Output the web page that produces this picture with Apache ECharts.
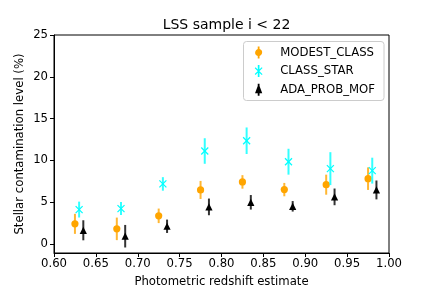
<!DOCTYPE html>
<html>
<head>
<meta charset="utf-8">
<script src="https://cdn.jsdelivr.net/npm/echarts@6/dist/echarts.min.js"></script>
<style>html,body{margin:0;padding:0;background:#fff;}#c{width:432px;height:288px;}</style>
</head>
<body>
<div id="c"></div>
<script>
// ---- data ----
const seriesNames = ['MODEST_CLASS', 'CLASS_STAR', 'ADA_PROB_MOF'];
const modestX = [0.625, 0.675, 0.725, 0.775, 0.825, 0.875, 0.925, 0.975];
const modestY = [2.39, 1.79, 3.35, 6.45, 7.41, 6.49, 7.08, 7.80];
const modestErr = [1.20, 1.35, 0.87, 1.08, 0.81, 0.80, 1.20, 1.35];
const classStarX = [0.630, 0.680, 0.730, 0.780, 0.830, 0.880, 0.930, 0.980];
const classStarY = [4.10, 4.22, 7.17, 11.11, 12.34, 9.83, 9.00, 8.76];
const classStarErr = [0.95, 0.78, 0.81, 1.53, 1.59, 1.55, 1.97, 1.55];
const adaX = [0.635, 0.685, 0.735, 0.785, 0.835, 0.885, 0.935, 0.985];
const adaY = [1.62, 0.91, 2.10, 4.42, 4.97, 4.49, 5.62, 6.45];
const adaErr = [1.20, 1.35, 0.80, 1.00, 0.87, 0.63, 1.00, 1.13];
const yTickValues = [0, 5, 10, 15, 20, 25];

const FONT = 'DejaVu Sans';
const FS = 11.7;

function rows(xs, ys, es) { return xs.map((x, i) => [x, ys[i], es[i]]); }

function markerShape(kind, cx, cy, color) {
  if (kind === 'circle') {
    return { type: 'circle', shape: { cx: cx, cy: cy, r: 3.6 }, style: { fill: color } };
  }
  if (kind === 'x') {
    const h = 3.5;
    return { type: 'group', children: [
      { type: 'line', shape: { x1: cx - h, y1: cy - h, x2: cx + h, y2: cy + h }, style: { stroke: color, lineWidth: 1.2 } },
      { type: 'line', shape: { x1: cx - h, y1: cy + h, x2: cx + h, y2: cy - h }, style: { stroke: color, lineWidth: 1.2 } }
    ]};
  }
  const s = 3.6;
  return { type: 'polygon', shape: { points: [[cx, cy - s], [cx - s, cy + s], [cx + s, cy + s]] }, style: { fill: color } };
}

function makeSeries(name, data, color, kind) {
  return {
    type: 'custom',
    name: name,
    data: data,
    encode: { x: 0, y: 1 },
    itemStyle: { color: color },
    clip: false,
    renderItem: function (params, api) {
      const x = api.value(0), y = api.value(1), e = api.value(2);
      const c = api.coord([x, y]);
      const t = api.coord([x, y + e]);
      const b = api.coord([x, y - e]);
      return { type: 'group', children: [
        { type: 'line', shape: { x1: c[0], y1: t[1], x2: c[0], y2: b[1] }, style: { stroke: color, lineWidth: 2, opacity: 0.8 } },
        markerShape(kind, c[0], c[1], color)
      ]};
    }
  };
}

const iconCircle = 'path://M4.1,0 L5.9,0 L5.9,2.55 A3.6,3.6 0 0 1 5.9,9.45 L5.9,12 L4.1,12 L4.1,9.45 A3.6,3.6 0 0 1 4.1,2.55 Z';
const iconX = 'path://M4.15,0 L5.85,0 L5.85,12 L4.15,12 Z M1.08,3.08 L1.92,2.08 L8.92,9.08 L8.08,9.92 Z M1.08,8.92 L8.08,2.08 L8.92,2.92 L1.92,9.92 Z';
const iconTri = 'path://M4.1,0 L5.9,0 L5.9,2.4 L8.6,9.6 L5.9,9.6 L5.9,12 L4.1,12 L4.1,9.6 L1.4,9.6 L4.1,2.4 Z';

const chart = echarts.init(document.getElementById('c'), null, { renderer: 'canvas' });
chart.setOption({
  animation: false,
  backgroundColor: '#ffffff',
  graphic: [{
    type: 'rect', z: 3,
    shape: { x: 243.5, y: 41.5, width: 140.5, height: 59, r: 3 },
    style: { fill: 'rgba(255,255,255,0.8)', stroke: '#cccccc', lineWidth: 1 }
  }],
  title: {
    text: 'LSS sample i < 22',
    left: 221.5, top: 13, textAlign: 'center',
    textStyle: { fontFamily: FONT, fontSize: 14, fontWeight: 'normal', color: '#000' }
  },
  legend: {
    orient: 'vertical',
    right: 48, top: 46.5,
    padding: [0, 9, 0, 0],
    itemWidth: 33, itemHeight: 12, itemGap: 6.6,
    z: 5,
    textStyle: { fontFamily: FONT, fontSize: FS, color: '#000' },
    data: [
      { name: seriesNames[0], icon: iconCircle, itemStyle: { color: '#FFA500' } },
      { name: seriesNames[1], icon: iconX, itemStyle: { color: '#00FFFF' } },
      { name: seriesNames[2], icon: iconTri, itemStyle: { color: '#000000' } }
    ]
  },
  grid: { left: 54, right: 43, top: 35, bottom: 35, outerBoundsMode: 'none', containLabel: false, show: true, borderColor: '#000', borderWidth: 1, backgroundColor: 'transparent' },
  xAxis: {
    type: 'value', min: 0.6, max: 1.0, interval: 0.05,
    name: 'Photometric redshift estimate', nameLocation: 'middle', nameGap: 23, nameMoveOverlap: false,
    nameTextStyle: { fontFamily: FONT, fontSize: FS, color: '#000' },
    axisLine: { show: true, onZero: false, lineStyle: { color: '#000', width: 1 } },
    axisTick: { show: true, inside: false, length: 4, lineStyle: { color: '#000' } },
    axisLabel: { margin: 5, fontFamily: FONT, fontSize: FS, color: '#000', formatter: v => v.toFixed(2) },
    splitLine: { show: false }
  },
  yAxis: {
    type: 'value', min: -1.1, max: 25,
    name: 'Stellar contamination level (%)', nameLocation: 'middle', nameGap: 28, nameMoveOverlap: false,
    nameTextStyle: { fontFamily: FONT, fontSize: FS, color: '#000' },
    axisLine: { show: true, onZero: false, lineStyle: { color: '#000', width: 1 } },
    axisTick: { show: true, inside: false, length: 4, lineStyle: { color: '#000' }, customValues: yTickValues },
    axisLabel: { margin: 6, fontFamily: FONT, fontSize: FS, color: '#000', customValues: yTickValues, formatter: v => String(Math.round(v)) },
    splitLine: { show: false }
  },
  series: [
    makeSeries(seriesNames[0], rows(modestX, modestY, modestErr), '#FFA500', 'circle'),
    makeSeries(seriesNames[1], rows(classStarX, classStarY, classStarErr), '#00FFFF', 'x'),
    makeSeries(seriesNames[2], rows(adaX, adaY, adaErr), '#000000', 'tri')
  ]
});
</script>
</body>
</html>
